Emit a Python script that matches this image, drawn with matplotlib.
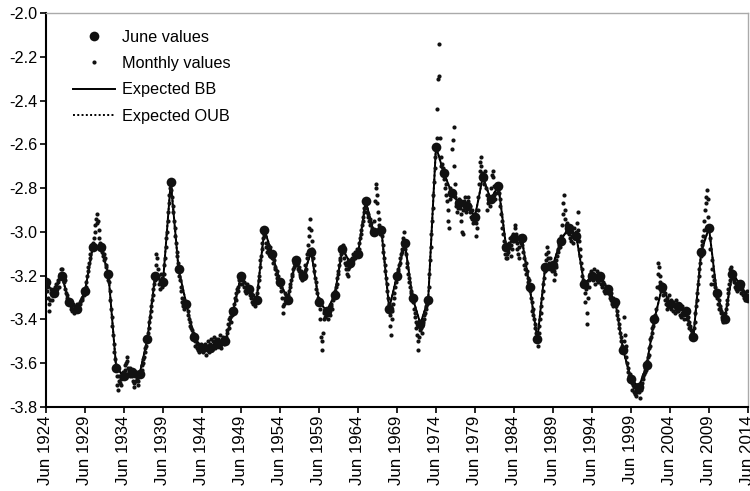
# 필요한 라이브러리 임포트
import numpy as np  # 수치 계산
import matplotlib
matplotlib.use("Agg")  # 디스플레이 없는 환경
import matplotlib.pyplot as plt  # 시각화

# 기본 글꼴 설정 (Arial 계열)
plt.rcParams['font.family'] = ['Liberation Sans', 'DejaVu Sans']

# 연도 (매년 6월 기준)
years = list(range(1924, 2015))

# 6월 값
june_values = [
    -3.23, -3.28, -3.20, -3.32, -3.35, -3.27, -3.07, -3.07, -3.19, -3.62,  # 1924-1933
    -3.66, -3.64, -3.65, -3.49, -3.20, -3.23, -2.77, -3.17, -3.33, -3.48,  # 1934-1943
    -3.53, -3.53, -3.51, -3.50, -3.36, -3.20, -3.26, -3.31, -2.99, -3.10,  # 1944-1953
    -3.23, -3.31, -3.13, -3.20, -3.09, -3.32, -3.36, -3.29, -3.08, -3.14,  # 1954-1963
    -3.10, -2.86, -3.00, -2.99, -3.35, -3.20, -3.05, -3.30, -3.42, -3.31,  # 1964-1973
    -2.61, -2.73, -2.82, -2.87, -2.88, -2.93, -2.75, -2.85, -2.79, -3.07,  # 1974-1983
    -3.03, -3.03, -3.25, -3.49, -3.16, -3.15, -3.04, -2.98, -3.02, -3.24,  # 1984-1993
    -3.20, -3.20, -3.26, -3.32, -3.54, -3.67, -3.71, -3.61, -3.40, -3.25,  # 1994-2003
    -3.33, -3.34, -3.36, -3.48, -3.09, -2.98, -3.28, -3.40, -3.19, -3.24,  # 2004-2013
    -3.30,  # 2014
]

# 월별 값 (각 행: 해당 연도 7월 ~ 다음 해 5월)
monthly_values = [
    [-3.25, -3.27, -3.30, -3.33, -3.36, -3.31, -3.28, -3.26, -3.29, -3.31, -3.27],  # 1924
    [-3.26, -3.25, -3.27, -3.24, -3.26, -3.23, -3.22, -3.25, -3.21, -3.19, -3.17],  # 1925
    [-3.17, -3.19, -3.21, -3.23, -3.22, -3.26, -3.28, -3.30, -3.29, -3.31, -3.33],  # 1926
    [-3.33, -3.35, -3.34, -3.36, -3.33, -3.35, -3.37, -3.34, -3.36, -3.35, -3.33],  # 1927
    [-3.34, -3.36, -3.33, -3.32, -3.33, -3.31, -3.30, -3.31, -3.28, -3.29, -3.27],  # 1928
    [-3.25, -3.23, -3.20, -3.18, -3.16, -3.14, -3.12, -3.10, -3.08, -3.07, -3.06],  # 1929
    [-3.05, -3.03, -3.00, -2.97, -2.94, -2.96, -2.92, -2.95, -2.99, -3.03, -3.05],  # 1930
    [-3.06, -3.09, -3.08, -3.11, -3.10, -3.13, -3.12, -3.15, -3.16, -3.20, -3.22],  # 1931
    [-3.23, -3.27, -3.31, -3.35, -3.39, -3.43, -3.47, -3.51, -3.55, -3.58, -3.61],  # 1932
    [-3.66, -3.70, -3.72, -3.68, -3.66, -3.69, -3.67, -3.70, -3.66, -3.64, -3.65],  # 1933
    [-3.63, -3.61, -3.60, -3.57, -3.59, -3.62, -3.64, -3.63, -3.66, -3.62, -3.65],  # 1934
    [-3.66, -3.68, -3.71, -3.69, -3.66, -3.68, -3.64, -3.67, -3.70, -3.68, -3.66],  # 1935
    [-3.66, -3.64, -3.63, -3.61, -3.60, -3.58, -3.57, -3.55, -3.53, -3.52, -3.50],  # 1936
    [-3.46, -3.44, -3.41, -3.39, -3.36, -3.34, -3.31, -3.29, -3.26, -3.24, -3.22],  # 1937
    [-3.15, -3.10, -3.12, -3.17, -3.20, -3.24, -3.26, -3.22, -3.19, -3.25, -3.21],  # 1938
    [-3.19, -3.15, -3.12, -3.07, -3.03, -3.00, -2.95, -2.91, -2.87, -2.83, -2.80],  # 1939
    [-2.81, -2.84, -2.88, -2.91, -2.95, -2.98, -3.02, -3.05, -3.09, -3.11, -3.14],  # 1940
    [-3.20, -3.22, -3.25, -3.27, -3.30, -3.32, -3.34, -3.31, -3.35, -3.33, -3.34],  # 1941
    [-3.34, -3.36, -3.38, -3.40, -3.41, -3.43, -3.44, -3.45, -3.47, -3.46, -3.48],  # 1942
    [-3.50, -3.52, -3.49, -3.53, -3.51, -3.54, -3.52, -3.55, -3.53, -3.51, -3.54],  # 1943
    [-3.52, -3.55, -3.54, -3.51, -3.53, -3.56, -3.54, -3.52, -3.50, -3.53, -3.55],  # 1944
    [-3.51, -3.49, -3.52, -3.54, -3.50, -3.48, -3.51, -3.53, -3.49, -3.52, -3.50],  # 1945
    [-3.49, -3.52, -3.50, -3.47, -3.51, -3.53, -3.49, -3.50, -3.48, -3.51, -3.49],  # 1946
    [-3.48, -3.46, -3.45, -3.42, -3.44, -3.40, -3.39, -3.41, -3.37, -3.38, -3.35],  # 1947
    [-3.33, -3.35, -3.30, -3.28, -3.31, -3.26, -3.25, -3.27, -3.22, -3.24, -3.21],  # 1948
    [-3.22, -3.24, -3.21, -3.25, -3.23, -3.27, -3.25, -3.28, -3.24, -3.27, -3.26],  # 1949
    [-3.27, -3.29, -3.28, -3.30, -3.32, -3.29, -3.33, -3.31, -3.34, -3.30, -3.32],  # 1950
    [-3.28, -3.25, -3.22, -3.20, -3.16, -3.13, -3.11, -3.08, -3.05, -3.03, -3.01],  # 1951
    [-3.02, -3.05, -3.07, -3.09, -3.06, -3.08, -3.10, -3.07, -3.11, -3.09, -3.12],  # 1952
    [-3.12, -3.14, -3.13, -3.16, -3.17, -3.19, -3.18, -3.21, -3.20, -3.22, -3.24],  # 1953
    [-3.25, -3.27, -3.30, -3.34, -3.37, -3.33, -3.30, -3.28, -3.31, -3.29, -3.32],  # 1954
    [-3.29, -3.27, -3.25, -3.24, -3.22, -3.20, -3.19, -3.17, -3.16, -3.14, -3.15],  # 1955
    [-3.12, -3.15, -3.17, -3.14, -3.18, -3.16, -3.19, -3.21, -3.18, -3.22, -3.19],  # 1956
    [-3.21, -3.18, -3.15, -3.17, -3.12, -3.10, -3.06, -3.02, -2.98, -2.94, -2.99],  # 1957
    [-3.04, -3.08, -3.12, -3.15, -3.18, -3.21, -3.23, -3.26, -3.28, -3.30, -3.31],  # 1958
    [-3.35, -3.40, -3.48, -3.50, -3.54, -3.46, -3.40, -3.37, -3.39, -3.35, -3.38],  # 1959
    [-3.38, -3.40, -3.37, -3.35, -3.38, -3.34, -3.33, -3.35, -3.31, -3.30, -3.28],  # 1960
    [-3.27, -3.25, -3.24, -3.21, -3.19, -3.18, -3.15, -3.13, -3.12, -3.10, -3.09],  # 1961
    [-3.06, -3.09, -3.12, -3.14, -3.17, -3.15, -3.19, -3.20, -3.17, -3.16, -3.13],  # 1962
    [-3.13, -3.15, -3.12, -3.10, -3.13, -3.11, -3.09, -3.12, -3.10, -3.08, -3.11],  # 1963
    [-3.08, -3.05, -3.03, -3.01, -2.99, -2.97, -2.95, -2.93, -2.91, -2.89, -2.87],  # 1964
    [-2.89, -2.91, -2.93, -2.92, -2.95, -2.94, -2.97, -2.96, -2.99, -2.98, -3.01],  # 1965
    [-2.95, -2.86, -2.80, -2.78, -2.83, -2.87, -2.91, -2.94, -2.97, -3.01, -2.98],  # 1966
    [-3.02, -3.06, -3.09, -3.12, -3.15, -3.18, -3.21, -3.24, -3.27, -3.30, -3.33],  # 1967
    [-3.38, -3.43, -3.47, -3.40, -3.36, -3.33, -3.30, -3.28, -3.25, -3.23, -3.21],  # 1968
    [-3.18, -3.17, -3.15, -3.14, -3.12, -3.10, -3.09, -3.08, -3.06, -3.03, -3.00],  # 1969
    [-3.08, -3.10, -3.14, -3.16, -3.19, -3.21, -3.23, -3.25, -3.27, -3.28, -3.29],  # 1970
    [-3.32, -3.35, -3.37, -3.39, -3.41, -3.44, -3.47, -3.50, -3.54, -3.48, -3.45],  # 1971
    [-3.44, -3.46, -3.43, -3.41, -3.40, -3.38, -3.37, -3.35, -3.34, -3.33, -3.32],  # 1972
    [-3.25, -3.19, -3.13, -3.07, -3.01, -2.95, -2.89, -2.83, -2.77, -2.71, -2.66],  # 1973
    [-2.57, -2.44, -2.30, -2.29, -2.14, -2.57, -2.66, -2.70, -2.69, -2.72, -2.71],  # 1974
    [-2.76, -2.80, -2.78, -2.83, -2.86, -2.90, -2.95, -2.98, -2.85, -2.80, -2.83],  # 1975
    [-2.62, -2.58, -2.52, -2.70, -2.78, -2.84, -2.88, -2.91, -2.86, -2.89, -2.85],  # 1976
    [-2.89, -2.92, -2.95, -3.00, -3.01, -2.90, -2.86, -2.84, -2.88, -2.91, -2.87],  # 1977
    [-2.86, -2.84, -2.89, -2.91, -2.88, -2.93, -2.90, -2.94, -2.96, -2.92, -2.95],  # 1978
    [-2.96, -3.02, -2.98, -2.90, -2.84, -2.78, -2.72, -2.68, -2.66, -2.70, -2.73],  # 1979
    [-2.74, -2.78, -2.76, -2.72, -2.80, -2.83, -2.90, -2.87, -2.84, -2.86, -2.88],  # 1980
    [-2.80, -2.74, -2.72, -2.75, -2.79, -2.83, -2.85, -2.82, -2.80, -2.78, -2.81],  # 1981
    [-2.82, -2.85, -2.88, -2.92, -2.95, -2.98, -3.01, -3.04, -3.08, -3.10, -3.12],  # 1982
    [-3.10, -3.12, -3.09, -3.05, -3.07, -3.03, -3.06, -3.11, -3.08, -3.04, -3.01],  # 1983
    [-2.98, -2.97, -3.01, -3.05, -3.08, -3.10, -3.12, -3.07, -3.04, -3.02, -3.05],  # 1984
    [-3.06, -3.09, -3.12, -3.15, -3.17, -3.14, -3.19, -3.18, -3.21, -3.23, -3.22],  # 1985
    [-3.27, -3.30, -3.32, -3.36, -3.35, -3.38, -3.40, -3.42, -3.44, -3.46, -3.48],  # 1986
    [-3.52, -3.46, -3.43, -3.40, -3.37, -3.34, -3.30, -3.27, -3.24, -3.21, -3.18],  # 1987
    [-3.13, -3.10, -3.07, -3.12, -3.09, -3.14, -3.17, -3.12, -3.15, -3.18, -3.16],  # 1988
    [-3.18, -3.22, -3.19, -3.16, -3.13, -3.11, -3.09, -3.08, -3.06, -3.05, -3.07],  # 1989
    [-3.02, -2.97, -2.92, -2.87, -2.83, -2.90, -2.94, -2.97, -3.00, -2.96, -2.99],  # 1990
    [-3.01, -3.03, -2.99, -3.04, -3.00, -3.02, -3.05, -3.01, -2.98, -3.03, -3.00],  # 1991
    [-2.96, -2.91, -2.99, -3.04, -3.08, -3.11, -3.14, -3.17, -3.20, -3.22, -3.23],  # 1992
    [-3.28, -3.32, -3.26, -3.37, -3.42, -3.30, -3.25, -3.22, -3.19, -3.21, -3.18],  # 1993
    [-3.22, -3.19, -3.17, -3.21, -3.24, -3.20, -3.18, -3.22, -3.19, -3.23, -3.21],  # 1994
    [-3.22, -3.24, -3.21, -3.25, -3.23, -3.27, -3.24, -3.28, -3.25, -3.27, -3.26],  # 1995
    [-3.28, -3.26, -3.30, -3.29, -3.31, -3.28, -3.33, -3.30, -3.34, -3.31, -3.33],  # 1996
    [-3.34, -3.36, -3.38, -3.40, -3.42, -3.44, -3.46, -3.48, -3.50, -3.52, -3.53],  # 1997
    [-3.50, -3.39, -3.47, -3.52, -3.57, -3.60, -3.62, -3.64, -3.66, -3.65, -3.68],  # 1998
    [-3.69, -3.72, -3.70, -3.73, -3.71, -3.74, -3.72, -3.75, -3.73, -3.70, -3.72],  # 1999
    [-3.73, -3.76, -3.72, -3.70, -3.69, -3.67, -3.66, -3.65, -3.64, -3.62, -3.63],  # 2000
    [-3.59, -3.57, -3.56, -3.53, -3.52, -3.49, -3.48, -3.46, -3.44, -3.43, -3.41],  # 2001
    [-3.38, -3.35, -3.30, -3.25, -3.19, -3.14, -3.16, -3.20, -3.23, -3.27, -3.24],  # 2002
    [-3.27, -3.29, -3.26, -3.31, -3.28, -3.33, -3.30, -3.35, -3.32, -3.29, -3.34],  # 2003
    [-3.31, -3.35, -3.33, -3.36, -3.32, -3.34, -3.37, -3.33, -3.35, -3.31, -3.36],  # 2004
    [-3.36, -3.33, -3.38, -3.35, -3.39, -3.37, -3.34, -3.38, -3.36, -3.40, -3.37],  # 2005
    [-3.38, -3.40, -3.39, -3.42, -3.41, -3.44, -3.43, -3.45, -3.47, -3.46, -3.48],  # 2006
    [-3.44, -3.41, -3.37, -3.34, -3.31, -3.28, -3.24, -3.20, -3.17, -3.14, -3.11],  # 2007
    [-3.06, -3.04, -3.02, -2.99, -2.95, -2.90, -2.87, -2.84, -2.81, -2.85, -2.93],  # 2008
    [-3.03, -3.08, -3.24, -3.13, -3.17, -3.20, -3.22, -3.24, -3.25, -3.27, -3.29],  # 2009
    [-3.30, -3.33, -3.31, -3.35, -3.34, -3.37, -3.36, -3.39, -3.38, -3.41, -3.39],  # 2010
    [-3.37, -3.35, -3.33, -3.31, -3.28, -3.26, -3.24, -3.22, -3.17, -3.16, -3.18],  # 2011
    [-3.21, -3.23, -3.22, -3.25, -3.26, -3.24, -3.27, -3.25, -3.23, -3.26, -3.24],  # 2012
    [-3.26, -3.28, -3.25, -3.29, -3.27, -3.30, -3.28, -3.31, -3.29, -3.27, -3.30],  # 2013
]

# x축 눈금 (5년 간격)
tick_years = list(range(1924, 2015, 5))
tick_labels = [f"Jun {y}" for y in tick_years]

# 월별 좌표 만들기 (6월 = 정수 연도)
month_x = []
month_y = []
for i, row in enumerate(monthly_values):
    for k, v in enumerate(row, start=1):
        month_x.append(years[i] + k / 12)
        month_y.append(v)
# 6월 값도 월별 값에 포함
month_x += years
month_y += june_values

# 그림 생성
fig = plt.figure(figsize=(7.5, 4.91), dpi=100)
ax = fig.add_axes([0.0613, 0.171, 0.936, 0.8025])

# 기대 경로 (BB: 실선, OUB: 점선)
ax.plot(years, june_values, color='black', lw=1.4, zorder=2, label='Expected BB')
ax.plot(years, june_values, color='black', lw=1.4, ls=(0, (1, 1.2)), zorder=2,
        label='Expected OUB')

# 월별 값 (작은 점)
ax.plot(month_x, month_y, 'o', color='#111111', ms=3.0, mec='none', zorder=3,
        label='Monthly values')

# 6월 값 (큰 점)
ax.plot(years, june_values, 'o', color='#111111', ms=7.0, mec='none', zorder=4,
        label='June values')

# 축 범위 및 눈금
ax.set_xlim(1924, 2014)
ax.set_ylim(-3.8, -2.0)
ax.set_yticks(np.arange(-3.8, -1.99, 0.2))
ax.set_yticklabels([f"{v:.1f}" for v in np.arange(-3.8, -1.99, 0.2)])
ax.set_xticks(tick_years)
ax.set_xticklabels(tick_labels, rotation=90)
ax.tick_params(axis='both', direction='out', length=4, width=1.2,
               colors='black', pad=2)
ax.tick_params(axis='y', labelsize=11.7)
ax.tick_params(axis='x', labelsize=12.2)

# 테두리: 왼쪽/아래는 검정, 위/오른쪽은 회색
ax.spines['left'].set_linewidth(1.5)
ax.spines['bottom'].set_linewidth(1.5)
ax.spines['top'].set_color('#aaaaaa')
ax.spines['right'].set_color('#aaaaaa')
ax.spines['top'].set_linewidth(1.0)
ax.spines['right'].set_linewidth(1.0)

# 범례 (순서: 6월 값, 월별 값, BB, OUB)
handles, labels = ax.get_legend_handles_labels()
order = [3, 2, 0, 1]
ax.legend([handles[i] for i in order], [labels[i] for i in order],
          loc='upper left', bbox_to_anchor=(0.022, 0.987), frameon=False,
          fontsize=11.7, handlelength=2.6, labelspacing=0.7, handletextpad=0.45,
          markerscale=1.0, numpoints=1, borderaxespad=0.3)

# 저장
fig.savefig("out.png", dpi=100)
